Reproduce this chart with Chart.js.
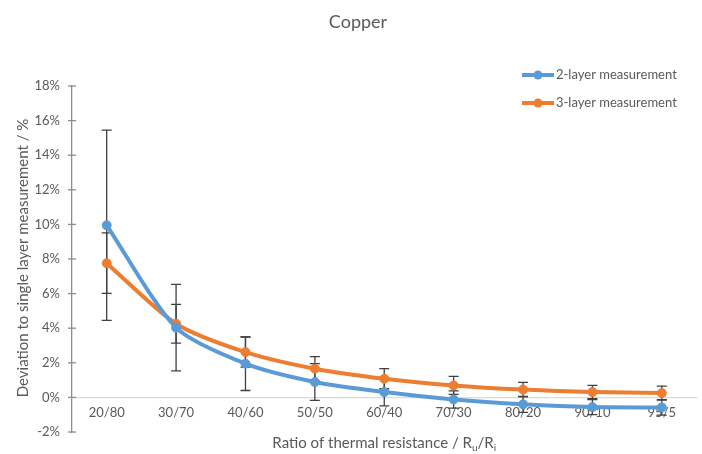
<!DOCTYPE html>
<html>
<head>
<meta charset="utf-8">
<script src="https://cdn.jsdelivr.net/npm/chart.js@4/dist/chart.umd.min.js"></script>
<style>
  html, body { margin: 0; padding: 0; background: #fff; }
  #wrap { width: 702px; height: 454px; }
</style>
</head>
<body>
<div id="wrap"><canvas id="copperChart"></canvas></div>
<script>
// values (in %)
const ratios = ["20/80", "30/70", "40/60", "50/50", "60/40", "70/30", "80/20", "90/10", "95/5"];
const twoLayer = [9.95, 4.03, 1.95, 0.89, 0.31, -0.12, -0.40, -0.56, -0.58];
const twoLayerErr = [5.5, 2.5, 1.55, 1.06, 0.8, 0.5, 0.46, 0.44, 0.45];
const threeLayer = [7.76, 4.26, 2.62, 1.66, 1.08, 0.69, 0.45, 0.31, 0.25];
const threeLayerErr = [1.75, 1.12, 0.87, 0.7, 0.58, 0.52, 0.42, 0.38, 0.4];
const yMin = -2, yMax = 18, yStep = 2;

const textColor = "#595959";
const fontFamily = "Lato, 'Open Sans', sans-serif";

// error bars drawn under the lines
const errorBars = {
    id: "errorBars",
    beforeDatasetsDraw(chart) {
        const ctx = chart.ctx;
        const y = chart.scales.y;
        ctx.save();
        ctx.strokeStyle = "#404040";
        ctx.lineWidth = 1.3;
        chart.data.datasets.forEach((ds, i) => {
            chart.getDatasetMeta(i).data.forEach((pt, j) => {
                const top = y.getPixelForValue(ds.data[j] + ds.errors[j]);
                const bot = y.getPixelForValue(ds.data[j] - ds.errors[j]);
                ctx.beginPath();
                ctx.moveTo(pt.x, top); ctx.lineTo(pt.x, bot);
                ctx.moveTo(pt.x - 5, top); ctx.lineTo(pt.x + 5, top);
                ctx.moveTo(pt.x - 5, bot); ctx.lineTo(pt.x + 5, bot);
                ctx.stroke();
            });
        });
        ctx.restore();
    }
};

// title, axis titles, legend and cross tick marks
const decorations = {
    id: "decorations",
    afterDraw(chart) {
        const ctx = chart.ctx;
        const area = chart.chartArea;
        const y = chart.scales.y;
        ctx.save();

        // cross ticks on the value axis
        ctx.strokeStyle = "#8c8c8c";
        ctx.lineWidth = 1.3;
        y.ticks.forEach(t => {
            const py = y.getPixelForValue(t.value);
            ctx.beginPath();
            ctx.moveTo(area.left - 4, py);
            ctx.lineTo(area.left + 4, py);
            ctx.stroke();
        });

        ctx.fillStyle = textColor;
        ctx.textBaseline = "middle";

        // chart title
        ctx.font = "18px " + fontFamily;
        ctx.textAlign = "center";
        ctx.fillText("Copper", 358, 22);

        // y axis title
        ctx.save();
        ctx.translate(23, 258);
        ctx.rotate(-Math.PI / 2);
        ctx.font = "15px " + fontFamily;
        ctx.fillText("Deviation to single layer measurement / %", 0, 0);
        ctx.restore();

        // x axis title with subscripts
        const parts = [
            ["Ratio of thermal resistance / R", 15, 0],
            ["u", 10, 3],
            ["/R", 15, 0],
            ["i", 10, 3]
        ];
        let w = 0;
        parts.forEach(p => { ctx.font = p[1] + "px " + fontFamily; w += ctx.measureText(p[0]).width; });
        let x = (area.left + area.right) / 2 - w / 2;
        ctx.textAlign = "left";
        ctx.textBaseline = "alphabetic";
        parts.forEach(p => {
            ctx.font = p[1] + "px " + fontFamily;
            ctx.fillText(p[0], x, 448 + p[2]);
            x += ctx.measureText(p[0]).width;
        });

        // legend
        ctx.textBaseline = "middle";
        ctx.font = "13px " + fontFamily;
        chart.data.datasets.forEach((ds, i) => {
            const ly = 75 + i * 28;
            ctx.strokeStyle = ds.borderColor;
            ctx.lineWidth = 4;
            ctx.beginPath();
            ctx.moveTo(522, ly); ctx.lineTo(554, ly);
            ctx.stroke();
            ctx.fillStyle = ds.borderColor;
            ctx.beginPath();
            ctx.arc(538, ly, 4.5, 0, Math.PI * 2);
            ctx.fill();
            ctx.fillStyle = textColor;
            ctx.fillText(ds.label, 556, ly);
        });
        ctx.restore();
    }
};

const ctx = document.getElementById("copperChart").getContext("2d");
const copperChart = new Chart(ctx, {
    type: "line",
    data: {
        labels: ratios,
        datasets: [
            {
                label: "2-layer measurement",
                data: twoLayer,
                errors: twoLayerErr,
                borderColor: "#5B9BD5",
                backgroundColor: "#5B9BD5",
                borderWidth: 4,
                pointRadius: 4.5,
                pointBorderWidth: 1,
                pointHoverRadius: 4.5,
                tension: 0.25
            },
            {
                label: "3-layer measurement",
                data: threeLayer,
                errors: threeLayerErr,
                borderColor: "#ED7D31",
                backgroundColor: "#ED7D31",
                borderWidth: 4,
                pointRadius: 4.5,
                pointBorderWidth: 1,
                pointHoverRadius: 4.5,
                tension: 0.25
            }
        ]
    },
    options: {
        responsive: true,
        maintainAspectRatio: false,
        animation: false,
        layout: { padding: { left: 0, right: 4, top: 86, bottom: 22 } },
        plugins: {
            legend: { display: false },
            title: { display: false },
            tooltip: { enabled: false }
        },
        scales: {
            y: {
                min: yMin,
                max: yMax,
                afterFit: (scale) => { scale.width = 72; },
                ticks: {
                    stepSize: yStep,
                    padding: 12,
                    color: textColor,
                    font: { family: fontFamily, size: 13 },
                    callback: (v) => v + "%"
                },
                grid: { display: false, drawTicks: false },
                border: { display: true, color: "#8c8c8c", width: 1.3 }
            },
            x: {
                position: { y: 0 },
                offset: true,
                ticks: {
                    padding: 8,
                    color: textColor,
                    font: { family: fontFamily, size: 13 },
                    maxRotation: 0,
                    autoSkip: false
                },
                grid: { display: true, offset: true, color: "rgba(0,0,0,0)", drawTicks: false },
                border: { display: true, color: "#d9d9d9", width: 1.3 }
            }
        }
    },
    plugins: [errorBars, decorations]
});
</script>
</body>
</html>
